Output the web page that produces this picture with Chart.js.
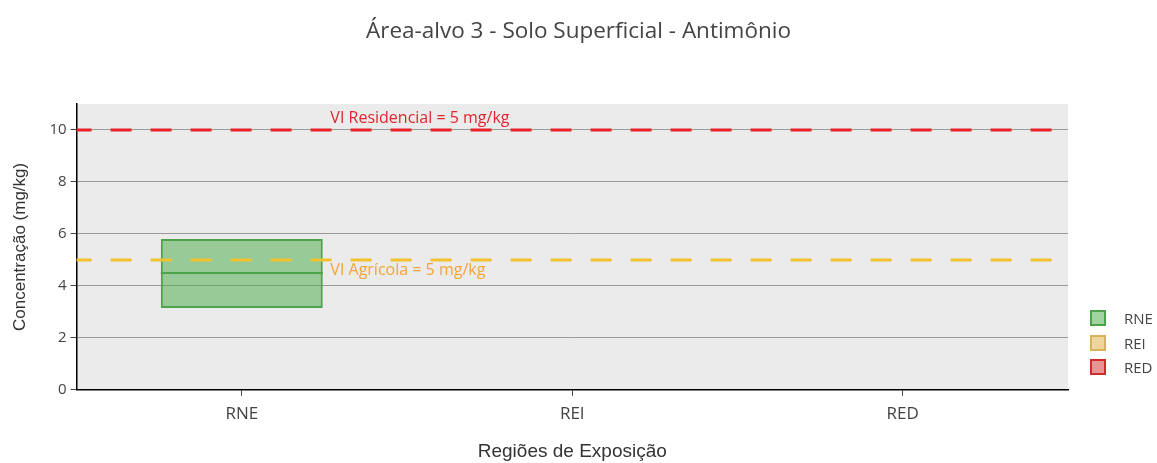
<!DOCTYPE html>
<html>
<head>
<meta charset="utf-8">
<script src="https://cdn.jsdelivr.net/npm/chart.js@4.4.1/dist/chart.umd.min.js"></script>
<style>
  html, body { margin: 0; padding: 0; background: #fff; }
  #wrap { position: relative; width: 1157px; height: 463px; }
  #legend { position: absolute; left: 1090px; top: 306px; font: 15px "Open Sans", sans-serif; color: #444; }
  #legend .item { height: 24.4px; display: flex; align-items: center; position: relative; }
  #legend .box { width: 12px; height: 12px; border: 2px solid; margin-right: 18px; }
</style>
</head>
<body>
<div id="wrap"><canvas id="chart"></canvas><div id="legend"></div></div>
<script>
// Data
const regions = ['RNE', 'REI', 'RED'];
const boxLow = [3.15, null, null];   // Q1
const boxHigh = [5.8, null, null];   // Q3
const medians = [4.5, null, null];
const yTicks = [0, 2, 4, 6, 8, 10];
const refValues = [10, 5];
const refLabels = ['VI Residencial = 5 mg/kg', 'VI Agrícola = 5 mg/kg'];

const fills = ['rgba(70,170,70,0.5)', 'rgba(225,185,90,0.6)', 'rgba(215,60,60,0.55)'];
const borders = ['#4ba34b', '#d9b35a', '#d22a2a'];
const refColors = ['#e8212b', '#f2c12e'];
const refTextColors = ['#e0262e', '#f4a43a'];

const datasets = regions.map((r, i) => ({
    label: r,
    data: regions.map((_, j) => (j === i && boxLow[j] != null) ? [boxLow[j], boxHigh[j]] : null),
    backgroundColor: fills[i],
    borderColor: borders[i],
    borderWidth: 2,
    borderSkipped: false,
    grouped: false,
    barPercentage: 0.49,
    categoryPercentage: 1
}));

// legend (html)
const legendEl = document.getElementById('legend');
datasets.forEach(ds => {
    const item = document.createElement('div');
    item.className = 'item';
    const box = document.createElement('span');
    box.className = 'box';
    box.style.background = ds.backgroundColor;
    box.style.borderColor = ds.borderColor;
    item.appendChild(box);
    item.appendChild(document.createTextNode(ds.label));
    legendEl.appendChild(item);
});

// plot background
const bgPlugin = {
    id: 'plotBg',
    beforeDraw(chart) {
        const { ctx, chartArea: a } = chart;
        ctx.save();
        ctx.fillStyle = '#ebebeb';
        ctx.fillRect(a.left, a.top, a.right - a.left, a.bottom - a.top);
        ctx.restore();
    }
};

// medians + reference lines
const overlayPlugin = {
    id: 'overlay',
    afterDatasetsDraw(chart) {
        const { ctx, chartArea: a, scales: { y } } = chart;
        ctx.save();
        chart.data.datasets.forEach((ds, i) => {
            const meta = chart.getDatasetMeta(i);
            meta.data.forEach((bar, j) => {
                if (medians[j] == null || ds.data[j] == null) return;
                const py = y.getPixelForValue(medians[j]);
                ctx.strokeStyle = borders[i];
                ctx.lineWidth = 2;
                ctx.beginPath();
                ctx.moveTo(bar.x - bar.width / 2, py);
                ctx.lineTo(bar.x + bar.width / 2, py);
                ctx.stroke();
            });
        });
        refValues.forEach((v, k) => {
            const py = y.getPixelForValue(v);
            ctx.strokeStyle = refColors[k];
            ctx.lineWidth = 3;
            ctx.setLineDash([21, 19]);
            ctx.lineDashOffset = 6;
            ctx.beginPath();
            ctx.moveTo(a.left, py);
            ctx.lineTo(a.right, py);
            ctx.stroke();
            ctx.setLineDash([]);
            ctx.fillStyle = refTextColors[k];
            ctx.font = '16px "Open Sans"';
            ctx.textBaseline = 'middle';
            ctx.textAlign = 'left';
            const tx = a.left + (a.right - a.left) * 0.256;
            ctx.fillText(refLabels[k], tx, k === 0 ? py - 12 : py + 11);
        });
        ctx.restore();
    }
};

new Chart(document.getElementById('chart'), {
    type: 'bar',
    data: { labels: regions, datasets: datasets },
    options: {
        responsive: true,
        maintainAspectRatio: false,
        animation: false,
        layout: { padding: 0 },
        plugins: {
            title: {
                display: true,
                text: 'Área-alvo 3 - Solo Superficial - Antimônio',
                color: '#444',
                font: { family: 'Open Sans', size: 22.5, weight: 'normal' },
                padding: { top: 18, bottom: 59 }
            },
            legend: { display: false },
            tooltip: { enabled: false }
        },
        scales: {
            x: {
                offset: true,
                grid: { drawOnChartArea: false, drawTicks: true, tickLength: 6, tickColor: '#444', offset: false },
                border: { display: true, color: '#000', width: 1.5 },
                ticks: { color: '#444', font: { family: 'Open Sans', size: 17 }, padding: 8 },
                title: {
                    display: true,
                    text: 'Regiões de Exposição',
                    color: '#333',
                    font: { family: 'Liberation Sans', size: 19 },
                    padding: { top: 8, bottom: 0 }
                }
            },
            y: {
                min: 0,
                max: 11,
                afterBuildTicks: (scale) => { scale.ticks = yTicks.map(v => ({ value: v })); },
                grid: { color: '#9a9a9a', lineWidth: 1, tickLength: 6, tickColor: '#444' },
                border: { display: true, color: '#000', width: 1.5 },
                ticks: { color: '#444', font: { family: 'Open Sans', size: 15 }, padding: 4 },
                title: {
                    display: true,
                    text: 'Concentração (mg/kg)',
                    color: '#333',
                    font: { family: 'Liberation Sans', size: 17 },
                    padding: { top: 10, bottom: 15 }
                }
            },
            // empty right axis: keeps room for the legend so the title stays centred on the page
            yRight: {
                position: 'right',
                display: true,
                grid: { display: false },
                border: { display: false },
                ticks: { display: false },
                afterFit: (scale) => { scale.width = 89; }
            }
        }
    },
    plugins: [bgPlugin, overlayPlugin]
});
</script>
</body>
</html>
